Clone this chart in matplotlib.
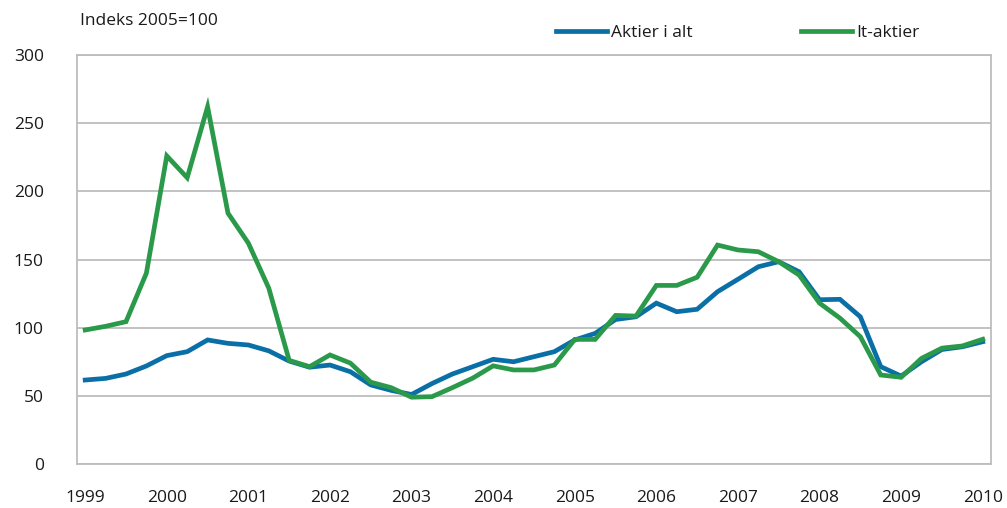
import numpy as np
import matplotlib
matplotlib.use("Agg")
import matplotlib.pyplot as plt

plt.rcParams['font.family'] = ['Open Sans', 'DejaVu Sans']

# quarterly index, 1999Q1 .. 2010Q1 (2005=100)
start_year = 1999
aktier_i_alt = [61.6, 62.8, 66, 71.9, 79.5, 82.4, 91, 88.5, 87.3, 83,
                75.5, 71, 72.6, 67.7, 58, 54, 51, 59, 66, 71.4,
                76.8, 75, 78.7, 82.4, 91, 95.8, 106, 108, 118, 111.7,
                113.5, 126.4, 135.5, 144.7, 148.4, 141, 120.5, 120.8, 108, 71.4,
                64.5, 75, 84, 86, 89.7]
it_aktier = [98.3, 101, 104.4, 140, 226, 210, 262, 184, 162, 129,
             76, 71.4, 80, 74, 60, 56, 49, 49.4, 56, 63,
             72, 69, 69, 72.6, 91.4, 91.4, 109, 108.5, 131, 131,
             137, 160.6, 157, 155.7, 148.4, 138.6, 118, 107, 93.4, 65.3,
             63.6, 77.5, 85, 86.6, 91.5]
years = list(range(1999, 2011))
y_ticks = [0, 50, 100, 150, 200, 250, 300]

x = start_year + np.arange(len(aktier_i_alt)) / 4.0

fig = plt.figure(figsize=(10.07, 5.08), dpi=100)
ax = fig.add_axes([0.0765, 0.0866, 0.9075, 0.8051])

blue = '#0a6fa6'
green = '#2a9a4a'
grid_c = '#bdbdbd'

ax.plot(x, aktier_i_alt, color=blue, lw=3.4, solid_joinstyle='miter', label='Aktier i alt', zorder=3)
ax.plot(x, it_aktier, color=green, lw=3.4, solid_joinstyle='miter', label='It-aktier', zorder=4)

ax.set_xlim(1998.9, 2010.1)
ax.set_ylim(0, 300)
ax.set_yticks(y_ticks)
ax.set_xticks(years)
ax.set_xticklabels([str(y) for y in years])
ax.yaxis.grid(True, color=grid_c, lw=1.3)
ax.set_axisbelow(True)
for s in ['left', 'right', 'bottom', 'top']:
    ax.spines[s].set_color(grid_c)
    ax.spines[s].set_linewidth(1.3)
ax.tick_params(axis='both', length=0, labelsize=12.5, colors='#1a1a1a')
ax.tick_params(axis='y', pad=24)
ax.tick_params(axis='x', pad=19)

fig.text(0.079, 0.958, 'Indeks 2005=100', fontsize=12.5, color='#1a1a1a', va='center')

ax.legend(loc='center left', bbox_to_anchor=(0.5245, 1.055), ncol=2, frameon=False,
          fontsize=12.5, handlelength=2.9, handletextpad=0.25, columnspacing=6.25,
          borderaxespad=0, borderpad=0, labelcolor='#1a1a1a')

fig.savefig('out.png', dpi=100, facecolor='white')
